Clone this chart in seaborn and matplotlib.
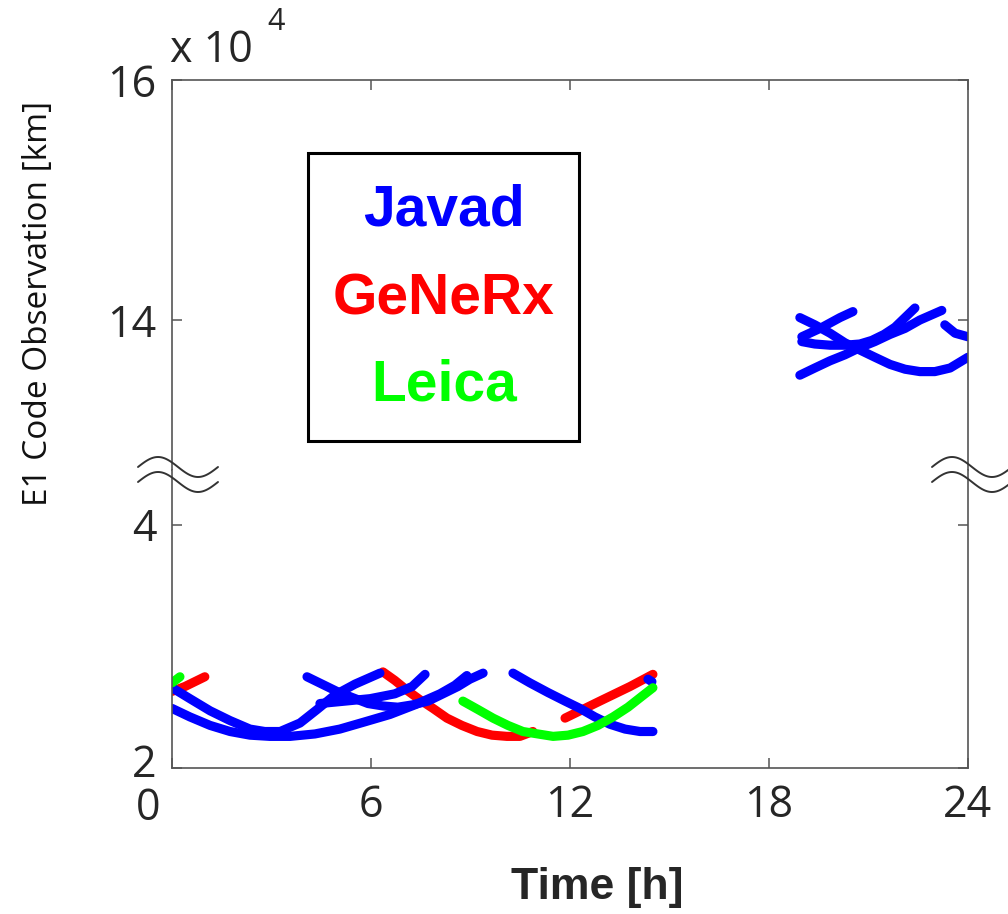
import numpy as np
import pandas as pd
import matplotlib
matplotlib.use("Agg")
import matplotlib.pyplot as plt
import matplotlib.transforms as mtransforms
from matplotlib.patches import Rectangle
import seaborn as sns

sns.set_style("white")
plt.rcParams["font.family"] = ["Open Sans", "DejaVu Sans"]

# =====================
# DATA  (time in hours, range in 10^4 km)
# =====================
# Javad arcs
javad_1_t = [0.00, 0.54, 1.15, 1.75, 2.35, 2.80, 3.26, 3.86, 4.37, 4.91, 5.52, 6.27]
javad_1_r = [2.66, 2.57, 2.47, 2.39, 2.32, 2.30, 2.30, 2.37, 2.48, 2.60, 2.69, 2.78]
javad_2_t = [0.00, 0.54, 1.15, 1.75, 2.35, 2.95, 3.56, 4.31, 5.06, 5.82, 6.57, 7.33, 8.08, 8.53, 8.89]
javad_2_r = [2.49, 2.42, 2.35, 2.30, 2.27, 2.26, 2.26, 2.28, 2.32, 2.38, 2.44, 2.52, 2.61, 2.68, 2.76]
javad_3_t = [4.07, 4.52, 4.97, 5.43, 5.91, 6.36, 6.81, 7.27, 7.72, 8.17, 8.62, 8.98, 9.38]
javad_3_r = [2.75, 2.69, 2.63, 2.58, 2.53, 2.51, 2.50, 2.52, 2.55, 2.61, 2.67, 2.73, 2.78]
javad_4_t = [4.46, 5.22, 5.97, 6.72, 7.24, 7.63]
javad_4_r = [2.53, 2.55, 2.57, 2.61, 2.67, 2.77]
javad_5_t = [10.28, 10.79, 11.34, 11.85, 12.30, 12.75, 13.20, 13.66, 14.11, 14.50]
javad_5_r = [2.78, 2.70, 2.62, 2.55, 2.49, 2.42, 2.36, 2.32, 2.30, 2.30]
javad_6_t = [14.35, 14.47]
javad_6_r = [2.73, 2.71]
javad_7_t = [18.93, 19.38, 19.84, 20.29, 20.74, 21.19, 21.65, 22.10, 22.55, 23.00, 23.46, 23.76, 24.00]
javad_7_r = [14.02, 13.96, 13.89, 13.81, 13.75, 13.69, 13.63, 13.59, 13.57, 13.57, 13.60, 13.65, 13.69]
javad_8_t = [18.93, 19.38, 19.84, 20.29, 20.74, 21.19, 21.65, 22.10, 22.55, 23.21]
javad_8_r = [13.54, 13.60, 13.66, 13.71, 13.77, 13.82, 13.88, 13.93, 14.00, 14.08]
javad_9_t = [18.99, 19.54, 20.14, 20.53]
javad_9_r = [13.86, 13.93, 14.02, 14.07]
javad_10_t = [18.99, 19.38, 19.84, 20.29, 20.74, 21.10, 21.47, 21.80, 22.10, 22.40]
javad_10_r = [13.82, 13.80, 13.79, 13.79, 13.80, 13.83, 13.88, 13.94, 14.02, 14.10]
javad_11_t = [23.30, 23.61, 24.00]
javad_11_r = [13.96, 13.89, 13.86]

# GeNeRx arcs
generx_1_t = [0.00, 0.39, 0.99]
generx_1_r = [2.63, 2.67, 2.75]
generx_2_t = [6.36, 6.72, 7.08, 7.48, 7.87, 8.29, 8.74, 9.20, 9.65, 10.10, 10.49, 10.88]
generx_2_r = [2.79, 2.72, 2.64, 2.56, 2.49, 2.41, 2.35, 2.30, 2.27, 2.26, 2.26, 2.30]
generx_3_t = [11.85, 12.90, 13.81, 14.50]
generx_3_r = [2.41, 2.55, 2.67, 2.77]

# Leica arcs
leica_1_t = [0.00, 0.24]
leica_1_r = [2.70, 2.75]
leica_2_t = [8.77, 9.23, 9.68, 10.13, 10.58, 11.03, 11.49, 11.94, 12.39, 12.84, 13.30, 13.75, 14.17, 14.50]
leica_2_r = [2.55, 2.48, 2.41, 2.35, 2.30, 2.28, 2.26, 2.27, 2.30, 2.35, 2.42, 2.50, 2.59, 2.66]

arcs = {
    "Javad": [(javad_1_t, javad_1_r), (javad_2_t, javad_2_r), (javad_3_t, javad_3_r),
              (javad_4_t, javad_4_r), (javad_5_t, javad_5_r), (javad_6_t, javad_6_r),
              (javad_7_t, javad_7_r), (javad_8_t, javad_8_r), (javad_9_t, javad_9_r),
              (javad_10_t, javad_10_r), (javad_11_t, javad_11_r)],
    "GeNeRx": [(generx_1_t, generx_1_r), (generx_2_t, generx_2_r), (generx_3_t, generx_3_r)],
    "Leica": [(leica_1_t, leica_1_r), (leica_2_t, leica_2_r)],
}
receivers = ["GeNeRx", "Javad", "Leica"]
colors = {"Javad": "#0000ff", "GeNeRx": "#ff0000", "Leica": "#00ff00"}

rows = []
for rec, lst in arcs.items():
    for k, (t, r) in enumerate(lst):
        for ti, ri in zip(t, r):
            rows.append((rec, f"{rec}_{k}", ti, ri))
df = pd.DataFrame(rows, columns=["receiver", "arc", "hour", "range"])

# =====================
# FIGURE
# =====================
W, H = 1008, 914
fig = plt.figure(figsize=(W / 100, H / 100), dpi=100)
x0, x1 = 172, 968
y_top, y_brk, y_bot = 80, 470, 768
ax_t = fig.add_axes([x0 / W, 1 - y_brk / H, (x1 - x0) / W, (y_brk - y_top) / H])
ax_b = fig.add_axes([x0 / W, 1 - y_bot / H, (x1 - x0) / W, (y_bot - y_brk) / H])

for ax, part in [(ax_t, df[df["range"] > 10]), (ax_b, df[df["range"] < 10])]:
    sns.lineplot(data=part, x="hour", y="range", hue="receiver", units="arc",
                 estimator=None, sort=False, hue_order=receivers, palette=colors,
                 legend=False, lw=6.6, solid_capstyle="round",
                 solid_joinstyle="round", ax=ax)
    ax.set_xlim(0, 24)
    ax.set_xlabel("")
    ax.set_ylabel("")
    for s in ax.spines.values():
        s.set_color("#555555")
        s.set_linewidth(1.2)

ax_t.set_ylim(12.75, 16)
ax_b.set_ylim(2, 4.45)
ax_t.spines["bottom"].set_visible(False)
ax_b.spines["top"].set_visible(False)

tick_kw = dict(direction="in", length=7, width=1.1, color="#555555",
               labelsize=31, pad=11)
ax_t.set_yticks([14, 16])
ax_t.set_xticks([0, 6, 12, 18, 24])
ax_t.tick_params(axis="y", left=True, right=True, **tick_kw)
ax_t.tick_params(axis="x", top=True, bottom=False, labelbottom=False, **tick_kw)
ax_b.set_yticks([2, 4])
ax_b.set_xticks([0, 6, 12, 18, 24])
ax_b.tick_params(axis="y", left=True, right=True, **tick_kw)
ax_b.tick_params(axis="x", bottom=True, top=False, **tick_kw)
ax_b.set_xticklabels(["0", "6", "12", "18", "24"])

# "0" sits left of the corner, "2" nudged up so the two don't collide
lbl0 = ax_b.get_xticklabels()[0]
lbl0.set_transform(lbl0.get_transform() +
                   mtransforms.ScaledTranslation(-0.24, -0.03, fig.dpi_scale_trans))
lbl2 = ax_b.get_yticklabels()[0]
lbl2.set_transform(lbl2.get_transform() +
                   mtransforms.ScaledTranslation(0, 0.08, fig.dpi_scale_trans))

# axis break marks
xs = np.linspace(0, 80, 60)
wave = 10 * np.sin(2 * np.pi * xs / 80)
for cx in (x0 - 34, x1 - 36):
    for cy in (467, 482):
        fig.add_artist(plt.Line2D((cx + xs) / W, 1 - (cy - wave) / H,
                                  color="#333333", lw=1.4,
                                  transform=fig.transFigure))

# labels
fig.text(39 / W, 1 - 303 / H, "E1 Code Observation [km]", rotation=90,
         ha="center", va="center", fontsize=24, color="#111111")
fig.text(597 / W, 1 - 888 / H, "Time [h]", ha="center", va="center",
         fontsize=32, fontweight="bold", family=["Liberation Sans", "DejaVu Sans"])
fig.text(170 / W, 1 - 62 / H, "x 10", ha="left", va="baseline", fontsize=31)
fig.text(267 / W, 1 - 30 / H, "4", ha="left", va="baseline", fontsize=22)

# label box
fig.add_artist(Rectangle((308 / W, 1 - 441 / H), (579 - 308) / W, (441 - 153) / H,
                         transform=fig.transFigure, fill=False, ec="black", lw=2.2))
for name, cy in [("Javad", 210), ("GeNeRx", 300), ("Leica", 385)]:
    fig.text(444 / W, 1 - cy / H, name, ha="center", va="center", color=colors[name],
             fontsize=41, fontweight="bold", family=["Liberation Sans", "DejaVu Sans"])

fig.savefig("out.png", dpi=100)
